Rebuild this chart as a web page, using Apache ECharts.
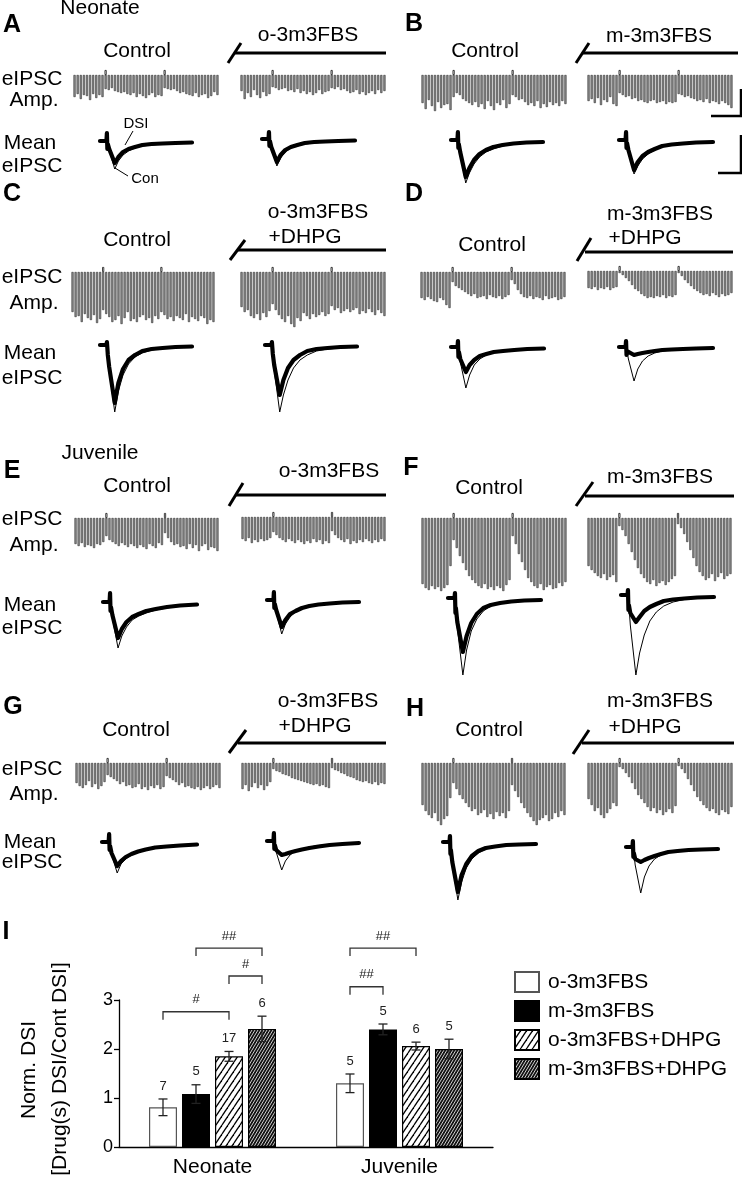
<!DOCTYPE html>
<html><head><meta charset="utf-8">
<script src="https://cdn.jsdelivr.net/npm/echarts@6/dist/echarts.min.js"></script>
<style>html,body{margin:0;padding:0;background:#fff}#c{width:742px;height:1179px}</style>
</head><body><div id="c"></div>
<script>
// ---------- eIPSC amplitude sweeps (depth of each evoked IPSC, arbitrary units) ----------
const ampACtrl=[22,19,24,20,21,25,19,23,20,22, 14,15,13,16,17,18,17,19,20,18, 22,19,21,23,20,18,22,20,21, 13,14,15,14,16,18,17,19,20,21, 18,22,20,19,23,21,17,20];
const ampADrug=[16,24,18,22,15,20,23,17,21,19, 12,13,15,14,13,16,15,17,14,18, 16,19,17,20,18,15,19,17,16, 13,14,12,15,14,16,18,17,15,19, 17,20,18,16,19,15,18,16];
const ampBCtrl=[28,34,25,31,36,27,33,30,29,35, 22,18,20,24,26,28,30,27,32,29, 34,26,31,35,28,30,25,33,29, 20,22,25,24,27,30,28,31,26,33, 29,32,27,30,28,31,26,29];
const ampBDrug=[26,24,28,23,30,25,27,22,29,31, 18,20,22,21,24,23,26,25,27,28, 26,25,28,27,26,29,27,28,27, 19,20,22,21,23,24,26,25,27,24, 28,26,27,29,26,28,30,33];
const ampCCtrl=[40,45,44,50,42,46,48,43,51,47, 38,42,45,50,48,44,52,46,40,49, 47,50,45,43,48,46,51,44,47, 40,43,47,45,49,44,46,48,42,50, 45,47,49,44,46,52,48,50];
const ampCDrug=[35,40,38,44,46,42,48,41,45,39, 32,38,43,47,50,44,52,55,46,49, 41,44,47,42,45,43,40,44,42, 34,38,36,41,39,37,40,38,36,42, 39,41,37,40,43,38,41,44];
const ampDCtrl=[26,28,25,27,29,30,26,28,33,36, 10,14,16,18,20,22,24,22,26,25, 24,27,23,25,26,24,27,25,23, 8,12,18,22,25,26,24,27,25,26, 28,24,27,26,25,28,27,25];
const ampDDrug=[17,18,16,19,17,18,16,19,17,16, 2,4,7,10,14,18,20,23,25,27, 26,27,25,26,24,27,25,26,24, 2,5,9,12,15,18,20,22,24,23, 25,22,24,26,23,25,24,22];
const ampECtrl=[26,28,25,29,27,28,30,26,27,24, 18,22,24,26,28,25,27,29,26,28, 30,27,29,31,26,28,30,25,27, 15,20,24,27,26,29,28,31,26,30, 27,33,28,26,32,29,30,33];
const ampEDrug=[22,24,21,26,23,25,22,24,23,21, 15,18,21,23,25,22,24,26,23,25, 27,24,26,22,25,23,27,24,26, 14,18,21,23,25,22,27,24,26,23, 25,22,24,26,23,25,22,24];
const ampFCtrl=[66,70,72,68,71,69,73,70,67,48, 22,30,38,45,52,58,62,65,68,70, 66,71,69,72,68,70,73,67,62, 18,26,36,44,52,60,64,68,70,66, 72,69,67,71,70,65,68,64];
const ampFDrug=[48,52,55,58,60,56,62,59,57,64, 8,12,18,26,34,42,50,56,60,64, 66,62,68,65,63,67,64,61,58, 6,10,16,24,32,40,48,54,58,62, 60,56,63,59,55,61,58,56];
const ampGCtrl=[20,23,25,22,18,24,21,26,23,19, 12,14,16,18,21,19,23,22,25,24, 21,26,24,27,23,25,22,26,24, 13,15,17,19,22,20,24,23,25,26, 24,27,25,23,26,24,22,25];
const ampGDrug=[26,22,28,24,20,25,22,27,23,19, 6,8,9,11,12,13,15,16,17,18, 19,20,21,22,21,23,22,24,25, 5,7,8,10,11,13,14,15,17,18, 19,18,20,21,19,22,20,21];
const ampHCtrl=[42,48,52,55,50,58,62,56,53,35, 20,26,32,36,40,44,48,46,52,50, 47,54,51,56,49,53,50,55,48, 22,28,34,40,45,50,54,58,62,57, 55,52,58,56,50,54,48,52];
const ampHDrug=[36,42,48,45,52,55,50,46,40,43, 4,6,10,14,20,26,32,36,40,44, 48,45,50,47,52,49,46,50,43, 3,6,10,16,22,28,34,38,42,45, 48,46,50,52,47,49,51,44];
const dsiMarkIdx=[10,29];

// ---------- mean eIPSC traces (time, current) ----------
const traceT=[0,7,7.5,8,8.5,10,16,20,25,31,38,46,56,68,82,100];
const conACtrl=[0,0,8,-8,-3,-9,-28,-20,-14,-10,-7,-5,-4,-3,-2,-1.5];
const dsiACtrl=[0,0,8,-8,-3,-8,-22,-16,-11,-8,-6,-4,-3,-2.5,-2,-1.5];
const conADrug=[0,0,7,-7,-2,-9,-27,-19,-13,-9,-7,-5,-4,-3,-2,-1.5];
const dsiADrug=[0,0,7,-7,-2,-8,-23,-16,-11,-8,-6,-4,-3,-2.5,-2,-1.5];
const conBCtrl=[0,0,8,-8,-4,-14,-43,-33,-24,-17,-12,-9,-6,-4,-3,-2];
const dsiBCtrl=[0,0,8,-8,-4,-12,-37,-28,-20,-14,-10,-7,-5,-3.5,-2.5,-2];
const conBDrug=[0,0,8,-8,-3,-11,-34,-26,-19,-14,-10,-7,-5,-4,-3,-2];
const dsiBDrug=[0,0,8,-8,-3,-10,-30,-22,-16,-12,-9,-6,-4.5,-3.5,-2.5,-2];
const conCCtrl=[0,0,3,-3,-10,-25,-67,-46,-30,-19,-12,-8,-5,-3.5,-2.5,-2];
const dsiCCtrl=[0,0,3,-3,-10,-22,-58,-38,-24,-15,-10,-6,-4,-3,-2,-1.5];
const conCDrug=[0,0,3,-3,-10,-25,-67,-50,-35,-23,-15,-10,-6,-4,-3,-2];
const dsiCDrug=[0,0,3,-3,-9,-20,-50,-35,-23,-15,-10,-6,-4,-3,-2,-1.5];
const conDCtrl=[0,0,6,-10,-5,-15,-41,-28,-18,-12,-8,-5.5,-4,-3,-2,-1.5];
const dsiDCtrl=[0,0,6,-10,-5,-12,-25,-18,-13,-9,-7,-5,-4,-3,-2,-1.5];
const conDDrug=[0,0,6,-8,-4,-12,-34,-22,-14,-9,-6,-4,-3,-2,-1.5,-1];
const dsiDDrug=[0,0,6,-8,-4,-6,-8,-7,-6,-5,-4,-3,-2.5,-2,-1.5,-1];
const conECtrl=[0,0,9,-9,-5,-16,-46,-34,-25,-18,-14,-11,-8,-6,-4,-3];
const dsiECtrl=[0,0,9,-9,-5,-13,-36,-27,-20,-15,-12,-9,-7,-5,-3.5,-2.5];
const conEDrug=[0,0,8,-8,-4,-12,-34,-24,-17,-12,-9,-7,-5,-4,-3,-2];
const dsiEDrug=[0,0,8,-8,-4,-10,-27,-20,-14,-11,-8,-6,-4.5,-3.5,-2.5,-2];
const conFCtrl=[0,0,5,-15,-10,-30,-77,-52,-33,-21,-13,-8,-5,-4,-3,-2];
const dsiFCtrl=[0,0,5,-15,-10,-24,-54,-38,-25,-16,-10,-7,-5,-3.5,-2.5,-2];
const conFDrug=[0,0,5,-15,-10,-30,-80,-58,-40,-26,-17,-11,-7,-4.5,-3,-2];
const dsiFDrug=[0,0,5,-15,-10,-18,-27,-22,-16,-12,-9,-6,-4.5,-3.5,-2.5,-2];
const conGCtrl=[0,0,8,-8,-4,-12,-31,-22,-17,-13,-10,-8,-6,-4.5,-3.5,-2.5];
const dsiGCtrl=[0,0,8,-8,-4,-11,-24,-19,-15,-12,-9.5,-7.5,-5.5,-4.5,-3.5,-2.5];
const conGDrug=[0,0,8,-8,-4,-11,-29,-20,-14,-10,-8,-6,-4.5,-3.5,-2.5,-2];
const dsiGDrug=[0,0,8,-8,-4,-9,-14,-13,-11.5,-10,-8.5,-7,-5.5,-4,-3,-2];
const conHCtrl=[0,0,6,-12,-8,-22,-58,-40,-26,-17,-11,-7,-5,-3.5,-2.5,-2];
const dsiHCtrl=[0,0,6,-12,-8,-20,-50,-33,-22,-14,-9,-6,-4.5,-3,-2.5,-2];
const conHDrug=[0,0,6,-10,-6,-18,-46,-30,-19,-12,-8,-5,-3.5,-2.5,-2,-1.5];
const dsiHDrug=[0,0,6,-10,-6,-12,-15,-13,-11,-9,-7,-5,-4,-3,-2.5,-2];

// ---------- Panel I: normalized DSI ----------
const groups=['Neonate','Juvenile'];
const seriesNames=['o-3m3FBS','m-3m3FBS','o-3m3FBS+DHPG','m-3m3FBS+DHPG'];
const meanO=[0.81,1.30];
const meanM=[1.08,2.40];
const meanOD=[1.85,2.06];
const meanMD=[2.41,2.00];
const semO=[0.17,0.19];
const semM=[0.19,0.11];
const semOD=[0.10,0.08];
const semMD=[0.26,0.20];
const nO=[7,5];
const nM=[5,5];
const nOD=[17,6];
const nMD=[6,5];
const sigLabels=['#','#','##','##','##'];
const sigCat=[0,0,0,1,1];
const sigFrom=[0,2,1,0,0];
const sigTo=[2,3,3,1,2];
const sigLevel=[2.76,3.49,4.06,3.27,4.06];
const yTicks=[0,1,2,3];

// ---------- layout ----------
const FONT='"Liberation Sans", Arial, Helvetica, sans-serif';
const halves=[
 {amp:ampACtrl,con:conACtrl,dsi:dsiACtrl,a:[73,219,75],t:[100,192,141]},
 {amp:ampADrug,con:conADrug,dsi:dsiADrug,a:[240,386,75],t:[262,355,139]},
 {amp:ampBCtrl,con:conBCtrl,dsi:dsiBCtrl,a:[421,567,75],t:[451,543,140]},
 {amp:ampBDrug,con:conBDrug,dsi:dsiBDrug,a:[587,733,75],t:[619,713,140]},
 {amp:ampCCtrl,con:conCCtrl,dsi:dsiCCtrl,a:[71,215,272],t:[100,192,345]},
 {amp:ampCDrug,con:conCDrug,dsi:dsiCDrug,a:[240,386,272],t:[265,357,345]},
 {amp:ampDCtrl,con:conDCtrl,dsi:dsiDCtrl,a:[420,566,272],t:[451,544,347]},
 {amp:ampDDrug,con:conDDrug,dsi:dsiDDrug,a:[587,733,271],t:[619,713,347]},
 {amp:ampECtrl,con:conECtrl,dsi:dsiECtrl,a:[74,219,518],t:[103,197,602]},
 {amp:ampEDrug,con:conEDrug,dsi:dsiEDrug,a:[241,386,517],t:[267,359,600]},
 {amp:ampFCtrl,con:conFCtrl,dsi:dsiFCtrl,a:[421,567,518],t:[448,541,598]},
 {amp:ampFDrug,con:conFDrug,dsi:dsiFDrug,a:[587,732,518],t:[621,714,595]},
 {amp:ampGCtrl,con:conGCtrl,dsi:dsiGCtrl,a:[75,221,763],t:[102,197,842]},
 {amp:ampGDrug,con:conGDrug,dsi:dsiGDrug,a:[241,386,763],t:[267,359,841]},
 {amp:ampHCtrl,con:conHCtrl,dsi:dsiHCtrl,a:[421,566,763],t:[443,536,842]},
 {amp:ampHDrug,con:conHDrug,dsi:dsiHDrug,a:[587,733,763],t:[626,718,847]}
];

function hatch(bg, fg, w, h, lw){
  const c=document.createElement('canvas'); c.width=w; c.height=h;
  const g=c.getContext('2d'); g.fillStyle=bg; g.fillRect(0,0,w,h);
  g.strokeStyle=fg; g.lineWidth=lw;
  for(const dx of [-w,0,w]){ g.beginPath(); g.moveTo(dx,h); g.lineTo(dx+w,0); g.stroke(); }
  return {image:c, repeat:'repeat'};
}

const grids=[], xAxes=[], yAxes=[], series=[];
halves.forEach(hf=>{
  let gi=grids.length;
  grids.push({left:hf.a[0], top:hf.a[2]-10, width:hf.a[1]-hf.a[0], height:90, outerBoundsMode:'none'});
  xAxes.push({type:'category', gridIndex:gi, show:false, data:hf.amp.map((_,k)=>k+1)});
  yAxes.push({type:'value', gridIndex:gi, show:false, min:-10, max:80, inverse:true});
  series.push({type:'bar', xAxisIndex:gi, yAxisIndex:gi, data:hf.amp, barCategoryGap:'32%', barGap:'-100%',
    itemStyle:{color:'#8e8e8e', borderColor:'#1a1a1a', borderWidth:0.5}, silent:true});
  series.push({type:'bar', xAxisIndex:gi, yAxisIndex:gi, data:hf.amp.map((_,k)=>dsiMarkIdx.includes(k)?-5:'-'),
    barCategoryGap:'32%', barGap:'-100%', itemStyle:{color:'#fff', borderColor:'#111', borderWidth:0.8}, silent:true});
  gi=grids.length;
  grids.push({left:hf.t[0], top:hf.t[2]-15, width:hf.t[1]-hf.t[0], height:105, outerBoundsMode:'none'});
  xAxes.push({type:'value', gridIndex:gi, show:false, min:0, max:100});
  yAxes.push({type:'value', gridIndex:gi, show:false, min:-90, max:15});
  series.push({type:'line', xAxisIndex:gi, yAxisIndex:gi, data:traceT.map((t,k)=>[t,hf.dsi[k]]), symbol:'none',
    lineStyle:{color:'#000', width:4.2, join:'round', cap:'round'}, silent:true, z:3});
  series.push({type:'line', xAxisIndex:gi, yAxisIndex:gi, data:traceT.map((t,k)=>[t,hf.con[k]]), symbol:'none',
    lineStyle:{color:'#000', width:1, join:'round'}, silent:true, z:2});
});

// Panel I
const GI=grids.length;
grids.push({left:119, top:1000, width:374, height:147, outerBoundsMode:'none'});
xAxes.push({type:'category', gridIndex:GI, data:groups, axisTick:{show:false},
  axisLine:{lineStyle:{color:'#000', width:1.3}}, axisLabel:{fontSize:21, color:'#000', margin:10, fontFamily:FONT}});
yAxes.push({type:'value', gridIndex:GI, min:yTicks[0], max:yTicks[yTicks.length-1], interval:1,
  axisLine:{show:true, lineStyle:{color:'#000', width:1.3}}, axisTick:{show:true, length:5, lineStyle:{color:'#000', width:1.3}},
  axisLabel:{fontSize:18, color:'#000', margin:6, fontFamily:FONT}, splitLine:{show:false}});
const BAR_W=28, BAR_SP=5;
const means=[meanO,meanM,meanOD,meanMD], sems=[semO,semM,semOD,semMD], ns=[nO,nM,nOD,nMD];
const fills=['#fff','#000', hatch('#fff','#000',6,9,1.3), hatch('#111','#e8e8e8',3,5,0.9)];
const borders=['#555','#000','#000','#000'];
seriesNames.forEach((nm,s)=>{
  series.push({type:'bar', name:nm, xAxisIndex:GI, yAxisIndex:GI, data:means[s], barWidth:BAR_W, barGap:(BAR_SP/BAR_W*100)+'%',
    itemStyle:{color:fills[s], borderColor:borders[s], borderWidth:1.2}, silent:true});
});
const errData=[];
for(let s=0;s<4;s++) for(let c=0;c<2;c++) errData.push([c, means[s][c], sems[s][c], ns[s][c], s]);
series.push({type:'custom', xAxisIndex:GI, yAxisIndex:GI, data:errData, clip:false, z:5, silent:true,
  renderItem:(p,api)=>{
    const c=api.value(0), m=api.value(1), e=api.value(2), n=api.value(3), s=api.value(4);
    const off=(s-1.5)*(BAR_W+BAR_SP);
    const top=api.coord([c,m+e]), bot=api.coord([c,m-e]);
    const x=top[0]+off;
    const st={stroke:'#222', lineWidth:1.3};
    return {type:'group', children:[
      {type:'line', shape:{x1:x,y1:top[1],x2:x,y2:bot[1]}, style:st},
      {type:'line', shape:{x1:x-4.5,y1:top[1],x2:x+4.5,y2:top[1]}, style:st},
      {type:'line', shape:{x1:x-4.5,y1:bot[1],x2:x+4.5,y2:bot[1]}, style:st},
      {type:'text', x:x, y:top[1]-13, style:{text:String(n), fontSize:13, fontFamily:FONT, fill:'#222', align:'center', verticalAlign:'middle'}}
    ]};
  }});
series.push({type:'custom', xAxisIndex:GI, yAxisIndex:GI, data:sigLevel.map((v,i)=>[sigCat[i],v]), clip:false, z:5, silent:true,
  renderItem:(p,api)=>{
    const i=p.dataIndex;
    const base=api.coord([sigCat[i], sigLevel[i]]);
    const x1=base[0]+(sigFrom[i]-1.5)*(BAR_W+BAR_SP), x2=base[0]+(sigTo[i]-1.5)*(BAR_W+BAR_SP), y=base[1];
    return {type:'group', children:[
      {type:'polyline', shape:{points:[[x1,y+8],[x1,y],[x2,y],[x2,y+8]]}, style:{stroke:'#333', lineWidth:1.3, fill:null}},
      {type:'text', x:(x1+x2)/2, y:y-12, style:{text:sigLabels[i], fontSize:13, fontFamily:FONT, fill:'#222', align:'center', verticalAlign:'middle'}}
    ]};
  }});

// ---------- annotations ----------
const g=[];
function T(x,y,text,fs,bold,extra){ g.push(Object.assign({type:'text', x:x, y:y, silent:true,
  style:{text:text, fontSize:fs||21, fontWeight:bold?'bold':'normal', fontFamily:FONT, fill:'#000', align:'center', verticalAlign:'middle'}}, extra||{})); }
function L(pts,w){ g.push({type:'polyline', silent:true, shape:{points:pts}, style:{stroke:'#000', lineWidth:w||3, fill:null}}); }
T(100,8,'Neonate'); T(100,453,'Juvenile');
[['A',12,25],['B',414,24],['C',12,194],['D',414,194],['E',12,471],['F',411,468],['G',13,707],['H',415,709],['I',6,932]]
  .forEach(a=>T(a[1],a[2],a[0],25,true));
[[137,51],[485,51],[137,240],[492,245],[137,486],[489,488],[136,730],[489,730]].forEach(p=>T(p[0],p[1],'Control'));
T(308,35,'o-3m3FBS'); T(659,36,'m-3m3FBS');
T(318,212,'o-3m3FBS'); T(305,237,'+DHPG'); T(660,214,'m-3m3FBS'); T(645,238,'+DHPG');
T(329,471,'o-3m3FBS'); T(660,477,'m-3m3FBS');
T(328,701,'o-3m3FBS'); T(315,726,'+DHPG'); T(660,701,'m-3m3FBS'); T(645,727,'+DHPG');
[[79,100,143,166],[277,303,353,378],[519,545,605,628],[769,794,842,862]].forEach(r=>{
  T(32,r[0],'eIPSC'); T(34,r[1],'Amp.'); T(30,r[2],'Mean'); T(32,r[3],'eIPSC');
});
[[[228,63],[241,43],[234,53],[386,53]],[[576,63],[589,43],[583,53],[738,53]],
 [[230,260],[245,240],[238,250],[386,250]],[[577,261],[591,238],[585,252],[733,252]],
 [[229,506],[243,483],[236,495],[386,495]],[[576,506],[593,482],[585,496],[734,496]],
 [[229,753],[246,730],[238,743],[386,743]],[[573,754],[589,730],[582,743],[734,743]]]
 .forEach(s=>{ L([s[0],s[1]],3); L([s[2],s[3]],3); });
L([[711,116],[741,116],[741,89]],2.5);
L([[741,135],[741,173],[718,173]],2.5);
T(136,124,'DSI',15); L([[133,131],[125,145]],1);
T(145,179,'Con',15); L([[115,168],[128,176]],1);
g.push({type:'text', x:29, y:1070, rotation:Math.PI/2, silent:true,
  style:{text:'Norm. DSI', fontSize:21, fontFamily:FONT, fill:'#000', align:'center', verticalAlign:'middle'}});
g.push({type:'text', x:60, y:1069, rotation:Math.PI/2, silent:true,
  style:{text:'[Drug(s) DSI/Cont DSI]', fontSize:21, fontFamily:FONT, fill:'#000', align:'center', verticalAlign:'middle'}});

const chart=echarts.init(document.getElementById('c'),null,{renderer:'canvas'});
chart.setOption({
  animation:false, backgroundColor:'#fff',
  textStyle:{fontFamily:FONT},
  grid:grids, xAxis:xAxes, yAxis:yAxes, series:series,
  legend:{data:seriesNames, left:509, top:966, orient:'vertical', itemWidth:24, itemHeight:20, itemGap:7, icon:'rect',
    textStyle:{fontSize:21, color:'#000', fontFamily:FONT, lineHeight:20, padding:[0,0,0,4]}, selectedMode:false},
  graphic:g
});
</script></body></html>
